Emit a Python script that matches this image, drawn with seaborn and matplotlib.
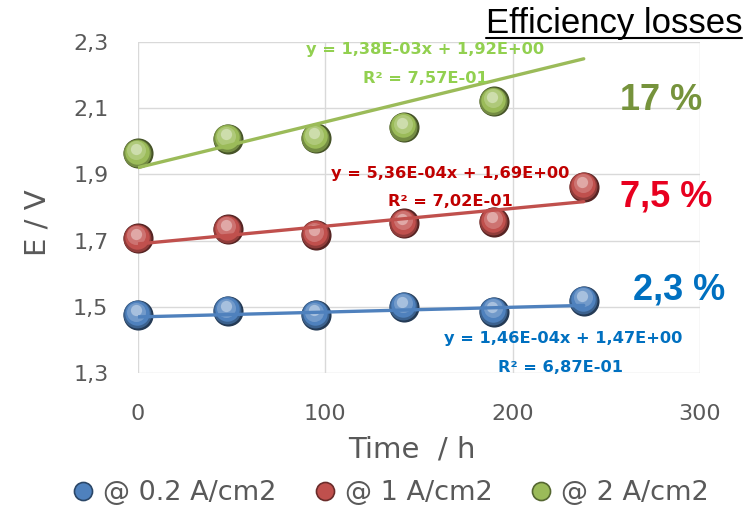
import numpy as np
import pandas as pd
import matplotlib
matplotlib.use("Agg")
import matplotlib.pyplot as plt
import matplotlib.colors as mcolors
from matplotlib.transforms import offset_copy
from matplotlib.lines import Line2D
import seaborn as sns

# ---------------- data ----------------
time_h = [0, 48, 95, 142, 190, 238]
e_02 = [1.476, 1.488, 1.476, 1.501, 1.486, 1.519]
e_1 = [1.707, 1.734, 1.717, 1.752, 1.757, 1.863]
e_2 = [1.963, 2.006, 2.009, 2.042, 2.120]
series_labels = ["@ 0.2 A/cm2", "@ 1 A/cm2", "@ 2 A/cm2"]
trend_slope = [1.46e-4, 5.36e-4, 1.38e-3]
trend_intercept = [1.47, 1.69, 1.92]
trend_x = [0, 238]
eq_texts = ["y = 1,46E-04x + 1,47E+00", "y = 5,36E-04x + 1,69E+00", "y = 1,38E-03x + 1,92E+00"]
r2_texts = ["R² = 6,87E-01", "R² = 7,02E-01", "R² = 7,57E-01"]
loss_texts = ["2,3 %", "7,5 %", "17 %"]
x_ticks = [0, 100, 200, 300]
y_ticks = [1.3, 1.5, 1.7, 1.9, 2.1, 2.3]

marker_colors = ["#4F81BD", "#C0504D", "#9BBB59"]
eq_colors = ["#0070C0", "#C00000", "#92D050"]
loss_colors = ["#0070C0", "#E8001F", "#76933C"]

W, H = 751, 511
sns.set_theme(style="white")
plt.rcParams['font.family'] = ['DejaVu Sans']
fig = plt.figure(figsize=(W / 100, H / 100), dpi=100)
ax = fig.add_axes([137.5 / W, 1 - 373.3 / H, 562.5 / W, 331.6 / H])

ax.set_xlim(0, 300)
ax.set_ylim(1.3, 2.3)
ax.set_xticks(x_ticks)
ax.set_yticks(y_ticks)
ax.set_xticklabels([str(t) for t in x_ticks])
ax.set_yticklabels([f"{t:.1f}".replace(".", ",") for t in y_ticks])
ax.grid(True, color="#D9D9D9", linewidth=1.0)
ax.set_axisbelow(True)
for sp in ax.spines.values():
    sp.set_visible(False)
ax.tick_params(axis="both", length=0, labelsize=16, labelcolor="#595959")
ax.tick_params(axis="y", pad=21)
ax.tick_params(axis="x", pad=22)


def mix(c, other, t):
    a = np.array(mcolors.to_rgb(c))
    b = np.array(mcolors.to_rgb(other))
    return tuple(a * (1 - t) + b * t)


S = 470
series = [e_02, e_1, e_2]
for i, ys in enumerate(series):
    col = marker_colors[i]
    df = pd.DataFrame({"t": time_h[:len(ys)], "E": ys})
    sns.scatterplot(data=df, x="t", y="E", s=S, color=mix(col, "black", 0.55),
                    linewidth=0, ax=ax, zorder=4, clip_on=False, legend=False)
    layers = [(0.86, mix(col, "black", 0.25), (-0.3, 0.5)),
              (0.66, col, (-0.6, 1.3)),
              (0.40, mix(col, "white", 0.2), (-0.9, 2.3)),
              (0.14, mix(col, "white", 0.5), (-1.0, 3.4))]
    for frac, c2, (dx, dy) in layers:
        tr = offset_copy(ax.transData, fig=fig, x=dx, y=dy, units="points")
        ax.scatter(df["t"], df["E"], s=S * frac, color=c2, linewidths=0,
                   transform=tr, zorder=4, clip_on=False)
    # trendline
    tx = np.array(trend_x, dtype=float)
    tdf = pd.DataFrame({"t": tx, "E": trend_slope[i] * tx + trend_intercept[i]})
    sns.lineplot(data=tdf, x="t", y="E", color=col, linewidth=2.4, ax=ax, zorder=5)

ax.set_xlabel("Time  / h", fontsize=21, color="#595959", va="center")
ax.set_ylabel("E / V", fontsize=21, color="#595959", va="center")
ax.xaxis.set_label_coords((412 - 137.5) / 562.5, (373.3 - 450) / 331.6)
ax.yaxis.set_label_coords((38 - 137.5) / 562.5, (373.3 - 223) / 331.6)

# equation annotations (positions in data units)
eq_pos = [(227.2, 1.406), (166.8, 1.904), (153.5, 2.275)]
r2_pos = [(225.5, 1.316), (166.8, 1.817), (153.5, 2.190)]
loss_pos = [(288.8, 1.551), (282.2, 1.832), (279.5, 2.124)]
for i in range(3):
    ax.text(*eq_pos[i], eq_texts[i], color=eq_colors[i], fontsize=11.7,
            fontweight="bold", ha="center", va="center", zorder=6)
    ax.text(*r2_pos[i], r2_texts[i], color=eq_colors[i], fontsize=11.7,
            fontweight="bold", ha="center", va="center", zorder=6)
    ax.text(*loss_pos[i], loss_texts[i], color=loss_colors[i], fontsize=26,
            fontweight="bold", family="Liberation Sans", ha="center", va="center", zorder=6)

# title with underline
title = fig.text(742 / W, 1 - 33 / H, "Efficiency losses", fontsize=25,
                 family="Liberation Sans", color="black", ha="right", va="baseline")
fig.canvas.draw()
bb = title.get_window_extent()
uy = 1 - 38.5 / H
fig.add_artist(Line2D([bb.x0 / W, bb.x1 / W], [uy, uy], transform=fig.transFigure,
                      color="black", linewidth=1.5))

# legend
handles = [Line2D([], [], linestyle="none", marker="o", markersize=13,
                  markerfacecolor=marker_colors[i],
                  markeredgecolor=mix(marker_colors[i], "black", 0.45), markeredgewidth=1.2)
           for i in range(3)]
fig.legend(handles, series_labels, loc="center", bbox_to_anchor=(0.52, 1 - 493 / H),
           ncol=3, frameon=False, fontsize=19.5, labelcolor="#595959",
           handletextpad=0.35, columnspacing=1.37, handlelength=0.8)

fig.savefig("out.png", dpi=100)
